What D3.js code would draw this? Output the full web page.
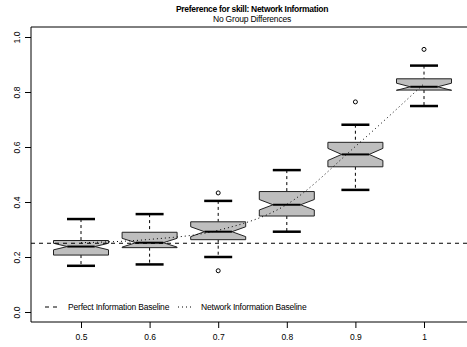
<!DOCTYPE html>
<html><head><meta charset="utf-8">
<script src="https://cdn.jsdelivr.net/npm/d3@7"></script>
<style>body{margin:0;background:#fff}svg{display:block}text{font-family:"Liberation Sans",Arial,sans-serif}</style>
</head><body><svg id="c" width="467" height="347"></svg>
<script>
const categories = [0.5, 0.6, 0.7, 0.8, 0.9, 1];
const whiskerLow = [0.168, 0.173, 0.200, 0.292, 0.444, 0.749];
const q1 = [0.207, 0.234, 0.263, 0.349, 0.528, 0.807];
const median = [0.238, 0.252, 0.292, 0.390, 0.573, 0.819];
const q3 = [0.260, 0.290, 0.328, 0.438, 0.617, 0.848];
const whiskerHigh = [0.338, 0.356, 0.404, 0.516, 0.681, 0.896];
const notchHalf = [0.012, 0.016, 0.018, 0.019, 0.022, 0.013];
const outliers = [[0.7, 0.433], [0.7, 0.150], [0.9, 0.764], [1, 0.955]];
const networkBaseline = [0.252, 0.264, 0.297, 0.391, 0.602, 0.830];
const perfectBaseline = 0.25;
const yTicks = [0.0, 0.2, 0.4, 0.6, 0.8, 1.0];
const xTickLabels = ["0.5", "0.6", "0.7", "0.8", "0.9", "1"];

const svg = d3.select("#c");
const pLeft = 31, pRight = 467, pTop = 27, pBottom = 322;
const x = d3.scaleLinear().domain([0.5, 1]).range([81, 424]);
const y = d3.scaleLinear().domain([0, 1]).range([312, 37]);
const boxHalf = 27.5, capHalf = 14;

// frame
svg.append("path").attr("d", `M${pRight},${pTop}H${pLeft}V${pBottom}H${pRight}`)
  .attr("fill", "none").attr("stroke", "#000").attr("stroke-width", 1);

// y axis
const yAx = svg.append("g").attr("transform", `translate(${pLeft},0)`)
  .call(d3.axisLeft(y).tickValues(yTicks).tickFormat(d3.format(".1f")).tickSize(6).tickSizeOuter(0));
yAx.select(".domain").remove();
yAx.selectAll("text").attr("font-size", 8.5).attr("fill", "#000")
  .attr("transform", "rotate(-90)").attr("x", 0).attr("y", -11).attr("dy", 0)
  .attr("text-anchor", "middle");

// x axis
const xAx = svg.append("g").attr("transform", `translate(0,${pBottom})`)
  .call(d3.axisBottom(x).tickValues(categories).tickFormat((d, i) => xTickLabels[i]).tickSize(6).tickSizeOuter(0));
xAx.select(".domain").remove();
xAx.selectAll("text").attr("font-size", 8.5).attr("fill", "#000").attr("y", 18).attr("dy", 0);

// boxes
categories.forEach((c, i) => {
  const cx = x(c);
  const g = svg.append("g");
  g.append("line").attr("x1", cx).attr("x2", cx).attr("y1", y(whiskerHigh[i])).attr("y2", y(q3[i]))
    .attr("stroke", "#000").attr("stroke-dasharray", "3,3");
  g.append("line").attr("x1", cx).attr("x2", cx).attr("y1", y(q1[i])).attr("y2", y(whiskerLow[i]))
    .attr("stroke", "#000").attr("stroke-dasharray", "3,3");
  [whiskerHigh[i], whiskerLow[i]].forEach(v => g.append("line")
    .attr("x1", cx - capHalf).attr("x2", cx + capHalf).attr("y1", y(v)).attr("y2", y(v))
    .attr("stroke", "#000").attr("stroke-width", 2.5));
  const nt = median[i] + notchHalf[i], nb = median[i] - notchHalf[i];
  const ni = boxHalf / 2;
  const pts = [
    [cx - boxHalf, y(q3[i])], [cx + boxHalf, y(q3[i])], [cx + boxHalf, y(nt)],
    [cx + boxHalf - ni, y(median[i])], [cx + boxHalf, y(nb)], [cx + boxHalf, y(q1[i])],
    [cx - boxHalf, y(q1[i])], [cx - boxHalf, y(nb)], [cx - boxHalf + ni, y(median[i])],
    [cx - boxHalf, y(nt)]
  ];
  g.append("path").attr("d", d3.line()(pts) + "Z").attr("fill", "#bebebe")
    .attr("stroke", "#222").attr("stroke-width", 1);
  g.append("line").attr("x1", cx - boxHalf + ni).attr("x2", cx + boxHalf - ni)
    .attr("y1", y(median[i])).attr("y2", y(median[i])).attr("stroke", "#000").attr("stroke-width", 2);
});

// outliers
svg.selectAll("circle.out").data(outliers).join("circle").attr("class", "out")
  .attr("cx", d => x(d[0])).attr("cy", d => y(d[1])).attr("r", 2)
  .attr("fill", "none").attr("stroke", "#000").attr("stroke-width", 1);

// baselines
svg.append("line").attr("x1", pLeft).attr("x2", pRight).attr("y1", y(perfectBaseline)).attr("y2", y(perfectBaseline))
  .attr("stroke", "#000").attr("stroke-dasharray", "4,4");
svg.append("path").datum(categories.map((c, i) => [x(c), y(networkBaseline[i])]))
  .attr("d", d3.line().curve(d3.curveMonotoneX)).attr("fill", "none")
  .attr("stroke", "#000").attr("stroke-dasharray", "1,3").attr("stroke-width", 1);

// legend
const ly = 307;
svg.append("line").attr("x1", 45).attr("x2", 59).attr("y1", ly).attr("y2", ly).attr("stroke", "#000").attr("stroke-dasharray", "4,4");
svg.append("text").attr("x", 68).attr("y", ly + 3).attr("font-size", 8.5).attr("letter-spacing", -0.2).attr("fill", "#000").text("Perfect Information Baseline");
svg.append("line").attr("x1", 178).attr("x2", 192).attr("y1", ly).attr("y2", ly).attr("stroke", "#000").attr("stroke-dasharray", "1,3");
svg.append("text").attr("x", 201).attr("y", ly + 3).attr("font-size", 8.5).attr("letter-spacing", -0.2).attr("fill", "#000").text("Network Information Baseline");

// titles
svg.append("text").attr("x", 252).attr("y", 12).attr("text-anchor", "middle").attr("font-size", 8.5)
  .attr("font-weight", "bold").attr("letter-spacing", -0.3).text("Preference for skill: Network Information");
svg.append("text").attr("x", 252).attr("y", 22).attr("text-anchor", "middle").attr("font-size", 8.5)
  .attr("letter-spacing", -0.2).text("No Group Differences");
</script></body></html>
